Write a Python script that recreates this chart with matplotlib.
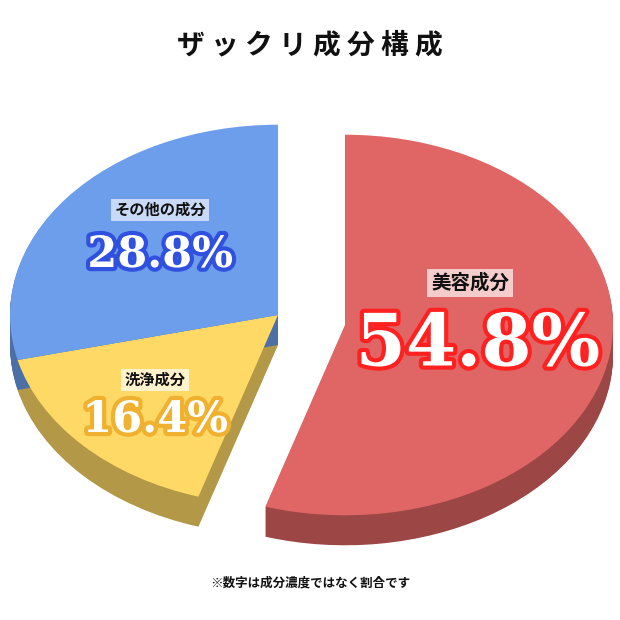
import matplotlib
matplotlib.use("Agg")
import matplotlib.pyplot as plt
from matplotlib.patches import Wedge
from matplotlib.transforms import Affine2D
import matplotlib.patheffects as pe

plt.rcParams['font.family'] = ['Noto Sans CJK JP', 'DejaVu Sans']

labels = ["美容成分", "洗浄成分", "その他の成分"]
values = [54.8, 16.4, 28.8]
pct_labels = ["54.8%", "16.4%", "28.8%"]
top_colors = ["#e06666", "#ffd966", "#6d9eeb"]
side_colors = ["#9c4646", "#b39848", "#4c6fa6"]
stroke_colors = ["#ff2020", "#f0b030", "#3050e0"]
label_bg = ["#f4cccc", "#fff2cc", "#c9daf8"]

fig = plt.figure(figsize=(6.2, 6.2), dpi=100)
ax = fig.add_axes([0, 0, 1, 1])
ax.set_xlim(0, 620)
ax.set_ylim(620, 0)
ax.axis('off')

R = 268
YS = -0.71
DEPTH = 30
centers = [(345, 325), (278, 315), (278, 315)]

total = sum(values)
start = 90.0
angles = []
for v in values:
    sweep = 360 * v / total
    angles.append((start - sweep, start))
    start -= sweep

for i in range(len(values)):
    cx, cy = centers[i]
    t1, t2 = angles[i]
    for k in range(DEPTH, 0, -1):
        tr = Affine2D().scale(1, YS).translate(cx, cy + k) + ax.transData
        ax.add_patch(Wedge((0, 0), R, t1, t2, facecolor=side_colors[i],
                           edgecolor='none', transform=tr))
for i in range(len(values)):
    cx, cy = centers[i]
    t1, t2 = angles[i]
    tr = Affine2D().scale(1, YS).translate(cx, cy) + ax.transData
    ax.add_patch(Wedge((0, 0), R, t1, t2, facecolor=top_colors[i],
                       edgecolor='none', transform=tr))

ax.text(310, 45, "ザ ッ ク リ 成 分 構 成", ha='center', va='center', fontsize=20,
        fontweight='bold', color='#111111')

pos = [((470, 283), (478, 345), 14, 52), ((155, 380), (155, 420), 11, 31),
       ((160, 210), (160, 255), 11, 31)]
for i in range(len(values)):
    (lx, ly), (px, py), lfs, pfs = pos[i]
    ax.text(lx, ly, labels[i], ha='center', va='center', fontsize=lfs,
            color='#111111', fontweight='bold',
            bbox=dict(boxstyle='square,pad=0.2', facecolor=label_bg[i], edgecolor='none'))
    ax.text(px, py, pct_labels[i], ha='center', va='center', fontsize=pfs,
            color='white', family='DejaVu Serif', fontweight='bold',
            path_effects=[pe.withStroke(linewidth=6, foreground=stroke_colors[i])])

ax.text(310, 583, "※数字は成分濃度ではなく割合です", ha='center', va='center',
        fontsize=9, color='#111111', fontweight='bold')

fig.savefig("out.png", dpi=100, facecolor='white')
